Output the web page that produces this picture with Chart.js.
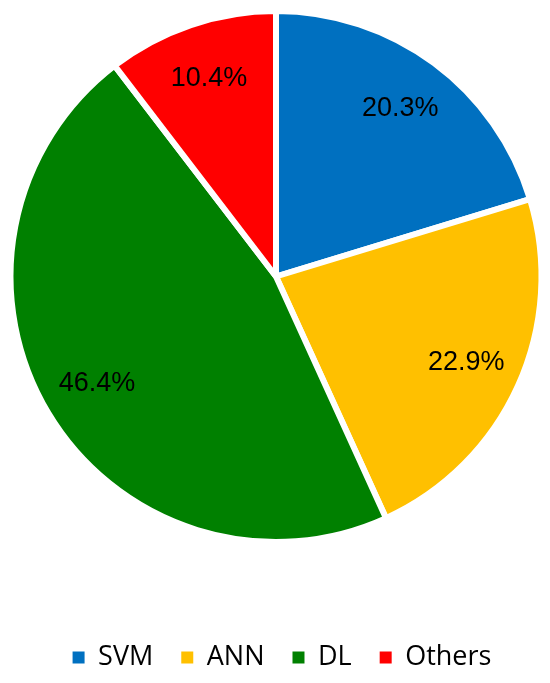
<!DOCTYPE html>
<html>
<head>
<meta charset="utf-8">
<script src="https://cdn.jsdelivr.net/npm/chart.js@4"></script>
<style>
  html, body { margin: 0; padding: 0; background: #fff; }
  #wrap { width: 550px; height: 683px; }
</style>
</head>
<body>
<div id="wrap"><canvas id="chart-area"></canvas></div>
<script>
var categories = ['SVM', 'ANN', 'DL', 'Others'];
var shares = [20.3, 22.9, 46.4, 10.4];
var sliceColors = ['#0070C0', '#FFC000', '#008000', '#FF0000'];

// percentage labels drawn inside each slice
var sliceLabels = {
    id: 'sliceLabels',
    afterLayout: function (chart) {
        // nudge the legend row a little to the right
        chart.legend.left += 12;
    },
    afterDatasetsDraw: function (chart) {
        var ctx = chart.ctx;
        var meta = chart.getDatasetMeta(0);
        ctx.save();
        ctx.font = '27px "Liberation Sans", Arial, sans-serif';
        ctx.fillStyle = '#000';
        ctx.textAlign = 'center';
        ctx.textBaseline = 'middle';
        meta.data.forEach(function (arc, i) {
            var p = arc.getProps(['x', 'y', 'startAngle', 'endAngle', 'outerRadius'], true);
            var mid = (p.startAngle + p.endAngle) / 2;
            var r = p.outerRadius * 0.786;
            ctx.fillText(shares[i].toFixed(1) + '%', p.x + Math.cos(mid) * r, p.y + Math.sin(mid) * r);
        });
        ctx.restore();
    }
};

var config = {
    type: 'pie',
    data: {
        labels: categories,
        datasets: [{
            data: shares,
            backgroundColor: sliceColors,
            borderColor: '#ffffff',
            borderWidth: 6,
            hoverOffset: 0,
            offset: 0
        }]
    },
    options: {
        responsive: true,
        maintainAspectRatio: false,
        animation: false,
        events: [],
        layout: {
            padding: { left: 7, right: 5, top: 8, bottom: 2 }
        },
        plugins: {
            tooltip: { enabled: false },
            legend: {
                position: 'bottom',
                title: {
                    display: true,
                    text: ' ',
                    font: { size: 10, lineHeight: 1 },
                    padding: { top: 61, bottom: 0 }
                },
                labels: {
                    boxWidth: 12,
                    boxHeight: 12,
                    padding: 28,
                    color: '#000',
                    font: { family: '"Open Sans", sans-serif', size: 27 },
                    generateLabels: function (chart) {
                        var items = Chart.controllers.pie.overrides.plugins.legend.labels.generateLabels(chart);
                        items.forEach(function (item) {
                            item.lineWidth = 0;
                            item.strokeStyle = item.fillStyle;
                        });
                        return items;
                    }
                }
            }
        }
    },
    plugins: [sliceLabels]
};

var chart;
window.onload = function () {
    var ctx = document.getElementById('chart-area').getContext('2d');
    chart = new Chart(ctx, config);
};
</script>
</body>
</html>
